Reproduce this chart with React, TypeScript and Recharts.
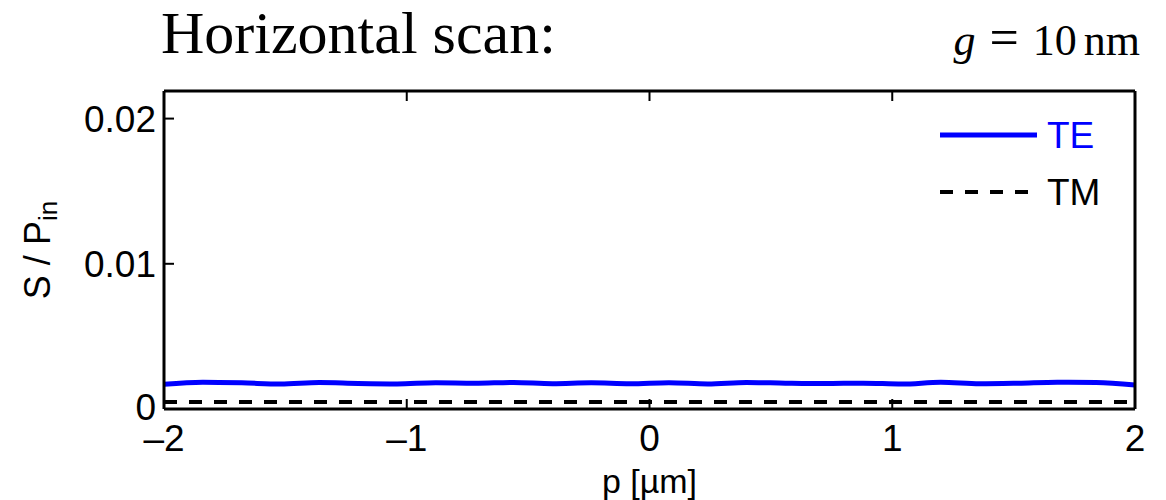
import { LineChart, Line, XAxis, YAxis } from "recharts";

// sampled position p [µm]
const pValues = [
  -2, -1.84, -1.68, -1.52, -1.36, -1.2, -1.04, -0.88, -0.72, -0.56, -0.4, -0.24, -0.08,
  0.08, 0.24, 0.4, 0.56, 0.72, 0.88, 1.04, 1.2, 1.36, 1.52, 1.68, 1.84, 2,
];
// S / P_in, TE polarisation
const teValues = [
  0.0017, 0.00184, 0.0018, 0.00172, 0.00182, 0.00176, 0.00173, 0.0018, 0.00177, 0.00183,
  0.00174, 0.0018, 0.00174, 0.00181, 0.00173, 0.00183, 0.00178, 0.00175, 0.00178, 0.00172,
  0.00184, 0.00174, 0.00178, 0.00185, 0.00183, 0.00166,
];
// S / P_in, TM polarisation
const tmValues = [
  0.00048, 0.00048, 0.00048, 0.00048, 0.00048, 0.00048, 0.00048, 0.00048, 0.00048, 0.00048,
  0.00048, 0.00048, 0.00048, 0.00048, 0.00048, 0.00048, 0.00048, 0.00048, 0.00048, 0.00048,
  0.00048, 0.00048, 0.00048, 0.00048, 0.00048, 0.00048,
];
const xTicks = [-2, -1, 0, 1, 2];
const yTicks = [0, 0.01, 0.02];
const xDomain = [-2, 2];
const yDomain = [0, 0.0219];

const data = pValues.map((p, i) => ({ p, te: teValues[i], tm: tmValues[i] }));

const W = 1166;
const H = 500;
const sans = "'Liberation Sans', Arial, Helvetica, sans-serif";
const serif = "'Liberation Serif', 'Times New Roman', serif";
const tickLen = 10;
const blue = "#0000ff";

const fmtX = (v: number) => (v < 0 ? `\u2013${Math.abs(v)}` : `${v}`);
const fmtY = (v: number) => (v === 0 ? "0" : `${v}`);

function BottomTick({ x, y, payload }: any) {
  return (
    <g>
      <line x1={x} x2={x} y1={y} y2={y - tickLen} stroke="#000" strokeWidth={2} />
      <text x={x} y={y + 42} textAnchor="middle" fontSize={37} fontFamily={sans} fill="#000">
        {fmtX(payload.value)}
      </text>
    </g>
  );
}

function TopTick({ x, y }: any) {
  return <line x1={x} x2={x} y1={y} y2={y + tickLen} stroke="#000" strokeWidth={2} />;
}

function LeftTick({ x, y, payload }: any) {
  // the zero label sits a little higher so it clears the "–2" below it
  const dy = payload.value === 0 ? 11 : 13;
  return (
    <g>
      <line x1={x} x2={x + tickLen} y1={y} y2={y} stroke="#000" strokeWidth={2} />
      <text x={x - 8} y={y + dy} textAnchor="end" fontSize={37} fontFamily={sans} fill="#000">
        {fmtY(payload.value)}
      </text>
    </g>
  );
}

function RightTick({ x, y }: any) {
  return <line x1={x} x2={x - tickLen} y1={y} y2={y} stroke="#000" strokeWidth={2} />;
}

function YLabel({ viewBox }: any) {
  const cx = viewBox.x + 50;
  const cy = viewBox.y + viewBox.height / 2;
  return (
    <text
      transform={`translate(${cx}, ${cy}) rotate(-90)`}
      textAnchor="middle"
      fontSize={36}
      fontFamily={sans}
      fill="#000"
    >
      S / P
      <tspan fontSize={26} dy={7}>in</tspan>
    </text>
  );
}

function XLabel({ viewBox }: any) {
  const cx = viewBox.x + viewBox.width / 2;
  return (
    <text x={cx} y={viewBox.y + 84} textAnchor="middle" fontSize={34} fontFamily={sans} fill="#000">
      p [µm]
    </text>
  );
}

export default function App() {
  return (
    <div style={{ position: "absolute", left: 0, top: 0, width: W, height: H, background: "#fff" }}>
      <LineChart width={W} height={H} data={data} margin={{ top: 90, right: 30, bottom: 0, left: 0 }}>
        <XAxis
          xAxisId="bottom"
          dataKey="p"
          type="number"
          domain={xDomain}
          ticks={xTicks}
          height={91}
          tickSize={0}
          tickMargin={0}
          tickLine={false}
          axisLine={{ stroke: "#000", strokeWidth: 3 }}
          tick={BottomTick}
          interval={0}
          label={<XLabel />}
        />
        <XAxis
          xAxisId="top"
          orientation="top"
          dataKey="p"
          type="number"
          domain={xDomain}
          ticks={xTicks}
          height={1}
          tickSize={0}
          tickMargin={0}
          tickLine={false}
          axisLine={{ stroke: "#000", strokeWidth: 3 }}
          tick={TopTick}
          interval={0}
        />
        <YAxis
          yAxisId="left"
          type="number"
          domain={yDomain}
          ticks={yTicks}
          width={164}
          tickSize={0}
          tickMargin={0}
          tickLine={false}
          axisLine={{ stroke: "#000", strokeWidth: 3 }}
          tick={LeftTick}
          interval={0}
          label={<YLabel />}
        />
        <YAxis
          yAxisId="right"
          orientation="right"
          type="number"
          domain={yDomain}
          ticks={yTicks}
          width={1}
          tickSize={0}
          tickMargin={0}
          tickLine={false}
          axisLine={{ stroke: "#000", strokeWidth: 3 }}
          tick={RightTick}
          interval={0}
        />
        <Line
          xAxisId="bottom"
          yAxisId="left"
          type="monotone"
          dataKey="te"
          stroke={blue}
          strokeWidth={5}
          dot={false}
          isAnimationActive={false}
        />
        <Line
          xAxisId="bottom"
          yAxisId="left"
          type="linear"
          dataKey="tm"
          stroke="#000"
          strokeWidth={4}
          strokeDasharray="13 12"
          dot={false}
          isAnimationActive={false}
        />
      </LineChart>
      <svg
        width={W}
        height={H}
        style={{ position: "absolute", left: 0, top: 0, pointerEvents: "none" }}
      >
        <text x={161} y={53} fontSize={60} fontFamily={serif} fill="#000">
          Horizontal scan:
        </text>
        <text x={1140} y={55} textAnchor="end" fontSize={44} fontFamily={serif} fill="#000">
          <tspan fontStyle="italic">g</tspan>
          <tspan dx={14} fontSize={52}>=</tspan>
          <tspan dx={14}>10</tspan>
          <tspan dx={7}>nm</tspan>
        </text>
        <line x1={940} x2={1037} y1={135} y2={135} stroke={blue} strokeWidth={5} />
        <text x={1047} y={148} fontSize={37} fontFamily={sans} fill={blue}>TE</text>
        <line x1={940} x2={1030} y1={192} y2={192} stroke="#000" strokeWidth={4} strokeDasharray="13 12" />
        <text x={1047} y={205} fontSize={37} fontFamily={sans} fill="#000">TM</text>
      </svg>
    </div>
  );
}
